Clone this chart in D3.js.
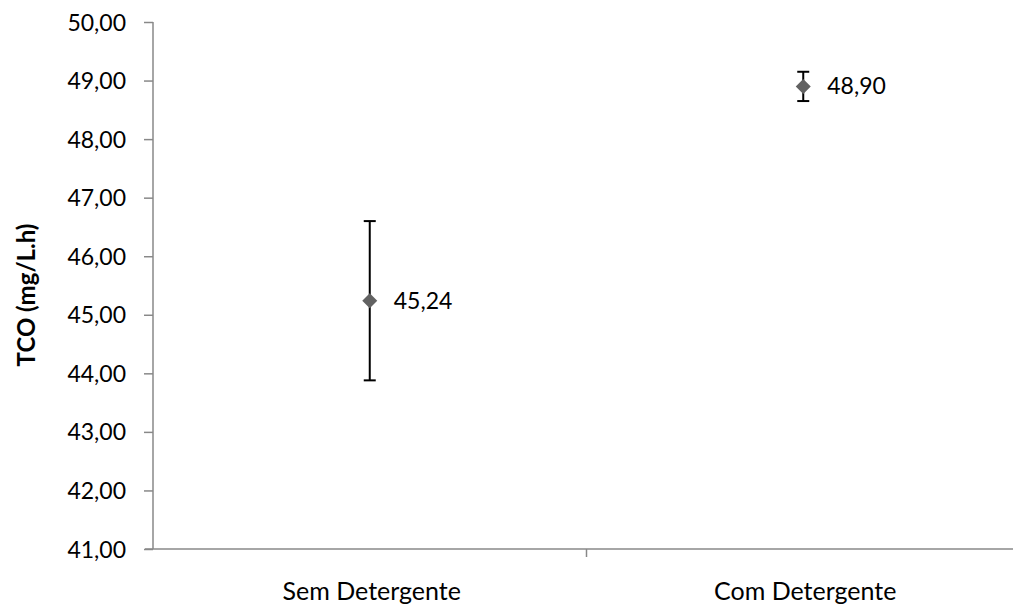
<!DOCTYPE html>
<html>
<head>
<meta charset="utf-8">
<script src="https://cdn.jsdelivr.net/npm/d3@7"></script>
<style>
  body { margin: 0; background: #fff; }
  text { font-family: Lato, "Open Sans", sans-serif; fill: #000; }
</style>
</head>
<body>
<svg id="chart" width="1013" height="604"></svg>
<script>
let categories = ['Sem Detergente', 'Com Detergente'];
let means = [45.24, 48.90];
let errors = [1.36, 0.25];
let labels = ['45,24', '48,90'];
let yTicks = [41, 42, 43, 44, 45, 46, 47, 48, 49, 50];

let svg = d3.select('#chart');

let yScale = d3.scaleLinear()
  .domain([41, 50])
  .range([549, 22]);
let xScale = d3.scaleBand()
  .domain(categories)
  .range([153, 1020]);

let fmt = function(d) { return d3.format('.2f')(d).replace('.', ','); };

// y axis
let yAxis = svg.append('g')
  .attr('transform', 'translate(153,0)')
  .call(d3.axisLeft(yScale).tickValues(yTicks).tickFormat(fmt).tickSize(9).tickPadding(18));
yAxis.select('.domain').attr('stroke', '#888').attr('stroke-width', 1.5).attr('d', 'M0,' + yScale(50) + 'V' + yScale(41));
yAxis.selectAll('.tick line').attr('stroke', '#888').attr('stroke-width', 1.5);
yAxis.selectAll('.tick text').style('font-size', '23px').attr('dy', '0.35em');

// x axis
let xAxis = svg.append('g')
  .attr('transform', 'translate(0,' + yScale(41) + ')');
xAxis.append('line')
  .attr('x1', 145).attr('x2', 1020)
  .attr('stroke', '#888').attr('stroke-width', 1.5);
xAxis.selectAll('.sep')
  .data(categories.slice(1))
  .join('line')
  .attr('class', 'sep')
  .attr('x1', function(d) { return xScale(d); })
  .attr('x2', function(d) { return xScale(d); })
  .attr('y1', 0).attr('y2', 8)
  .attr('stroke', '#888').attr('stroke-width', 1.5);
xAxis.selectAll('.cat')
  .data(categories)
  .join('text')
  .attr('class', 'cat')
  .attr('x', function(d) { return xScale(d) + xScale.bandwidth() / 2 + 2; })
  .attr('y', 51)
  .attr('text-anchor', 'middle')
  .style('font-size', '25px')
  .text(function(d) { return d; });

// y title
svg.append('text')
  .attr('transform', 'translate(35,' + 295 + ') rotate(-90)')
  .attr('text-anchor', 'middle')
  .style('font-size', '24px')
  .style('font-weight', 'bold')
  .text('TCO (mg/L.h)');

let data = categories.map(function(c, i) {
  return {c: c, m: means[i], e: errors[i], l: labels[i]};
});
let cx = function(d) { return xScale(d.c) + xScale.bandwidth() / 2; };

let pts = svg.append('g').selectAll('g')
  .data(data)
  .join('g');

pts.append('line')
  .attr('x1', cx).attr('x2', cx)
  .attr('y1', function(d) { return yScale(d.m + d.e); })
  .attr('y2', function(d) { return yScale(d.m - d.e); })
  .attr('stroke', '#000').attr('stroke-width', 2);
pts.append('line')
  .attr('x1', function(d) { return cx(d) - 6; }).attr('x2', function(d) { return cx(d) + 6; })
  .attr('y1', function(d) { return yScale(d.m + d.e); })
  .attr('y2', function(d) { return yScale(d.m + d.e); })
  .attr('stroke', '#000').attr('stroke-width', 2);
pts.append('line')
  .attr('x1', function(d) { return cx(d) - 6; }).attr('x2', function(d) { return cx(d) + 6; })
  .attr('y1', function(d) { return yScale(d.m - d.e); })
  .attr('y2', function(d) { return yScale(d.m - d.e); })
  .attr('stroke', '#000').attr('stroke-width', 2);
pts.append('path')
  .attr('d', function(d) {
    let x = cx(d), y = yScale(d.m);
    return 'M' + x + ',' + (y - 7.5) + 'L' + (x + 7.5) + ',' + y + 'L' + x + ',' + (y + 7.5) + 'L' + (x - 7.5) + ',' + y + 'Z';
  })
  .attr('fill', '#626262');
pts.append('text')
  .attr('x', function(d) { return cx(d) + 24; })
  .attr('y', function(d) { return yScale(d.m); })
  .attr('dy', '0.35em')
  .style('font-size', '23px')
  .text(function(d) { return d.l; });
</script>
</body>
</html>
